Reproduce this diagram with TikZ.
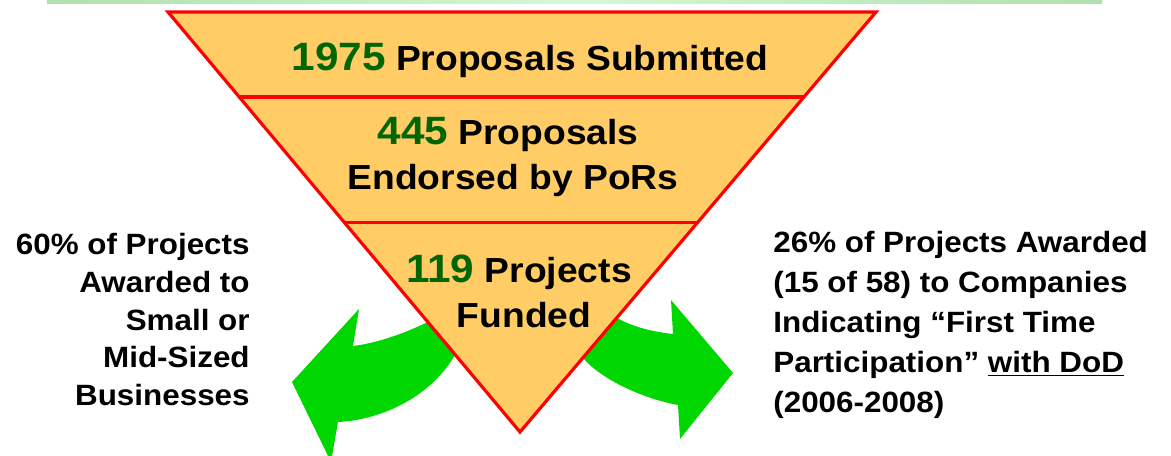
\documentclass[tikz,border=0pt]{standalone}
\usepackage{fontspec}
\setmainfont[FakeStretch=1.07]{Liberation Sans}
\usetikzlibrary{calc}

\definecolor{funnel}{HTML}{FFCC66}
\definecolor{numgreen}{HTML}{006600}
\definecolor{arrowgreen}{HTML}{00D600}
\definecolor{rulegreen}{HTML}{B0E0B0}
\definecolor{rulelight}{HTML}{D4F8D4}

\tikzset{
  stage/.style={font=\fontsize{19.8}{24}\selectfont\bfseries, inner sep=0, anchor=base},
  note/.style={font=\fontsize{16.7}{21.5}\selectfont\bfseries, inner sep=0},
}
\newcommand{\bignum}[1]{{\color{numgreen}\fontsize{22.5}{24}\selectfont #1}}

\begin{document}
\begin{tikzpicture}[x=0.02cm,y=-0.02cm]
\useasboundingbox (0,0) rectangle (1171,456);
% top rule
\shade[left color=rulegreen, right color=rulegreen, middle color=rulelight] (47,0) rectangle (1102,4);
% arrows
\fill[arrowgreen] (480,318) -- (428,322) .. controls (405,333) and (378,343) .. (353,346) -- (359,309) -- (292,382) -- (331,462) -- (338,422) .. controls (380,420) and (430,398) .. (455,355) -- (490,340) -- cycle;
\fill[arrowgreen] (600,305) -- (617,318) .. controls (635,328) and (655,332) .. (673,334) -- (671,300) -- (733,373) -- (680,439) -- (678,405) .. controls (640,398) and (600,378) .. (583,358) -- (570,340) -- cycle;
% funnel
\coordinate (tl) at (168,12);
\coordinate (tr) at (876,12);
\coordinate (bt) at (520,432);
\filldraw[fill=funnel, draw=red, line width=1.8pt] (tl) -- (tr) -- (bt) -- cycle;
\coordinate (d1l) at ($(tl)!0.2024!(bt)$);
\coordinate (d1r) at ($(tr)!0.2024!(bt)$);
\coordinate (d2l) at ($(tl)!0.502!(bt)$);
\coordinate (d2r) at ($(tr)!0.502!(bt)$);
\draw[red, line width=1.8pt] (d1l) -- (d1r);
\draw[red, line width=1.8pt] (d2l) -- (d2r);
% stages
\node[stage] (sub) at (530,71) {\bignum{1975} Proposals Submitted};
\node[stage] (endA) at (508,145) {\bignum{445} Proposals};
\node[stage] (endB) at (513,190) {Endorsed by PoRs};
\node[stage] (fundA) at (519,282) {\bignum{119} Projects};
\node[stage] (fundB) at (524,327) {Funded};
% notes
\node[note, align=right, anchor=north east] (small) at (250,233) {60\% of Projects\\Awarded to\\Small or\\Mid-Sized\\Businesses};
\node[note, font=\fontsize{16.7}{22.8}\selectfont\bfseries, align=left, anchor=north west] (first) at (773,231) {26\% of Projects Awarded\\(15 of 58) to Companies\\Indicating “First Time\\Participation” \underline{with DoD}\\(2006-2008)};
\end{tikzpicture}
\end{document}
